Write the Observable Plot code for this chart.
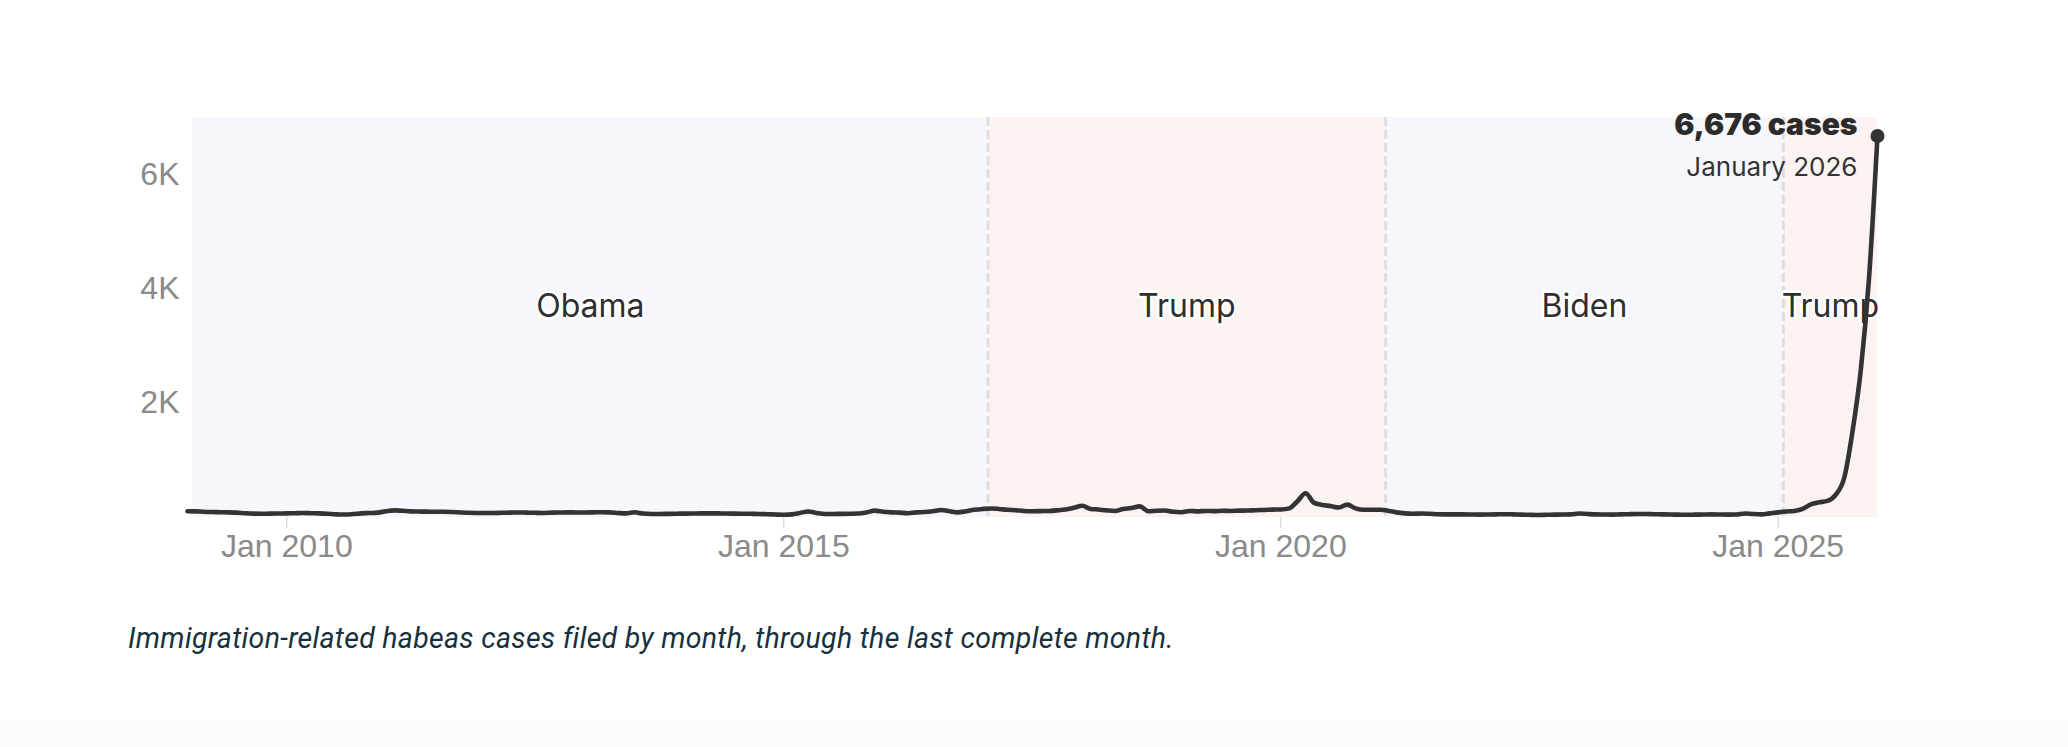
<!DOCTYPE html>
<html>
<head>
<meta charset="utf-8">
<script src="https://cdn.jsdelivr.net/npm/d3@7"></script>
<script src="https://cdn.jsdelivr.net/npm/@observablehq/plot@0.6"></script>
<style>
  html { background: #fbfbfb; }
  body { margin: 0; background: #fbfbfb; }
  #wrap { position: relative; width: 2068px; height: 720px; background: #fff; }
  #caption { position: absolute; left: 128px; top: 622px; font: italic 28.5px Roboto, sans-serif; letter-spacing: 0.3px; color: #17303d; white-space: nowrap; }
</style>
</head>
<body>
<div id="wrap">
  <div id="chart"></div>
  <div id="caption">Immigration-related habeas cases filed by month, through the last complete month.</div>
</div>
<script>
// Monthly immigration-related habeas filings
const startYear = 2009;
const cases2009 = [110, 108, 100, 95, 93, 90, 85, 75, 68, 65, 68, 70];
const cases2010 = [72, 75, 78, 75, 72, 65, 55, 52, 60, 72, 78, 85];
const cases2011 = [110, 125, 118, 108, 105, 102, 100, 100, 95, 88, 82, 80];
const cases2012 = [80, 78, 82, 85, 88, 85, 82, 80, 85, 88, 90, 88];
const cases2013 = [88, 90, 93, 90, 80, 72, 92, 70, 62, 62, 64, 66];
const cases2014 = [68, 70, 72, 72, 72, 70, 68, 66, 65, 62, 58, 52];
const cases2015 = [48, 55, 80, 105, 80, 62, 62, 64, 66, 70, 90, 120];
const cases2016 = [100, 90, 85, 75, 90, 95, 110, 132, 110, 90, 110, 135];
const cases2017 = [150, 158, 150, 135, 128, 115, 110, 112, 115, 125, 140, 170];
const cases2018 = [205, 150, 140, 125, 115, 150, 165, 195, 110, 118, 122, 100];
const cases2019 = [92, 115, 108, 115, 112, 118, 115, 120, 122, 128, 132, 138];
const cases2020 = [140, 160, 280, 425, 260, 220, 200, 175, 225, 160, 135, 135];
const cases2021 = [135, 115, 90, 72, 65, 70, 65, 58, 55, 55, 55, 52];
const cases2022 = [50, 52, 55, 58, 55, 50, 47, 45, 47, 50, 52, 55];
const cases2023 = [70, 62, 55, 52, 50, 55, 58, 60, 60, 58, 55, 52];
const cases2024 = [50, 48, 50, 52, 55, 52, 50, 52, 70, 60, 55, 72];
const cases2025 = [90, 105, 115, 150, 230, 265, 290, 400, 700, 1500, 2600, 4200];
const cases2026 = [6676];

const yearly = [cases2009, cases2010, cases2011, cases2012, cases2013, cases2014, cases2015,
  cases2016, cases2017, cases2018, cases2019, cases2020, cases2021, cases2022, cases2023,
  cases2024, cases2025, cases2026];

// Presidential terms
const periodNames = ["Obama", "Trump", "Biden", "Trump"];
const periodStarts = ["2009-01-20", "2017-01-20", "2021-01-20", "2025-01-20"];
const periodEnds = ["2017-01-20", "2021-01-20", "2025-01-20", "2026-01-01"];
const periodParty = ["D", "R", "D", "R"];

// Axis ticks
const xTickDates = ["2010-01-01", "2015-01-01", "2020-01-01", "2025-01-01"];
const yTickValues = [2000, 4000, 6000];
const yDomain = [0, 7000];

const lastLabel = "6,676 cases";
const lastDateLabel = "January 2026";

const data = yearly.flatMap((vals, k) => vals.map((v, m) => ({
  date: new Date(Date.UTC(startYear + k, m, 1)), cases: v
})));
const periods = periodNames.map((name, i) => ({
  name,
  start: new Date(periodStarts[i]),
  end: new Date(periodEnds[i]),
  party: periodParty[i],
  mid: new Date((new Date(periodStarts[i]).getTime() + new Date(periodEnds[i]).getTime()) / 2)
}));
const last = data[data.length - 1];

const axisFont = "Liberation Sans, Arial, Helvetica, sans-serif";
const labelFont = "Inter, Lato, sans-serif";

const chart = Plot.plot({
  width: 2068,
  height: 577,
  marginLeft: 187,
  marginRight: 191,
  marginTop: 117,
  marginBottom: 60,
  style: { fontFamily: axisFont, background: "transparent", overflow: "visible" },
  x: { type: "utc", domain: [data[0].date, last.date] },
  y: { domain: yDomain },
  marks: [
    Plot.rect(periods, {
      x1: "start", x2: "end",
      fill: d => d.party === "D" ? "#f6f7fc" : "#fbf3f2"
    }),
    Plot.ruleX(periods.slice(1), {
      x: "start", stroke: "#dedede", strokeWidth: 3, strokeDasharray: "9,4"
    }),
    Plot.axisY({
      ticks: yTickValues, tickFormat: d => d / 1000 + "K",
      tickSize: 0, tickPadding: 8, fontSize: 32, fill: "#8a8a8a", label: null
    }),
    Plot.axisX({
      ticks: xTickDates.map(d => new Date(d)), tickFormat: d3.utcFormat("%b %Y"),
      tickSize: 11, tickPadding: 6, fontSize: 32, stroke: "#cfcfcf", fill: "#8a8a8a", label: null
    }),
    Plot.text(periods, {
      x: "mid", text: "name", frameAnchor: "middle", dy: -11,
      fontSize: 32, fontFamily: labelFont, fill: "#2e2e2e",
      stroke: "white", strokeWidth: 5, paintOrder: "stroke"
    }),
    Plot.line(data, {
      x: "date", y: "cases", stroke: "#333", strokeWidth: 4.6,
      curve: "monotone-x", strokeLinecap: "round", strokeLinejoin: "round"
    }),
    Plot.dot([last], { x: "date", y: "cases", r: 7, fill: "#333" }),
    Plot.text([last], {
      x: "date", y: "cases", text: () => lastLabel, textAnchor: "end",
      dx: -20, dy: -11, fontSize: 30, fontWeight: 900, fontFamily: labelFont, fill: "#2b2b2b"
    }),
    Plot.text([last], {
      x: "date", y: "cases", text: () => lastDateLabel, textAnchor: "end",
      dx: -20, dy: 32, fontSize: 26, fontFamily: labelFont, fill: "#333"
    })
  ]
});
document.getElementById("chart").appendChild(chart);
</script>
</body>
</html>
